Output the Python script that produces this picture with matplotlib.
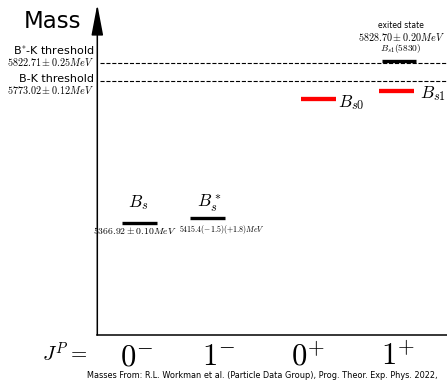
import matplotlib
matplotlib.use("Agg")
import matplotlib.pyplot as plt

plt.rcParams["mathtext.fontset"] = "cm"
plt.rcParams["font.family"] = "DejaVu Sans"

# levels as drawn (MeV)
states = ["$B_s$", "$B_s^*$", "$B_{s0}$", "$B_{s1}$", "$B_{s1}(5830)$"]
masses = [5366.92, 5381.0, 5720.0, 5743.0, 5828.7]
state_colors = ["black", "black", "red", "red", "black"]
mass_texts = ["$5366.92 \\pm 0.10 MeV$", "$5415.4(-1.5)(+1.8) MeV$", "", "",
              "$5828.70 \\pm 0.20 MeV$"]

thresholds = [5822.71, 5773.02]
threshold_names = ["B$^{*}$-K threshold", "B-K threshold"]
threshold_texts = ["$5822.71 \\pm 0.25 MeV$", "$5773.02 \\pm 0.12 MeV$"]

jp_labels = ["$0^{-}$", "$1^{-}$", "$0^{+}$", "$1^{+}$"]

W, H = 447, 382


def px(x, y):
    """pixel position -> figure fraction"""
    return x / W, 1 - y / H


fig = plt.figure(figsize=(W / 100, H / 100), dpi=100)
ax = fig.add_axes([97.3 / W, 47 / H, (W - 97.3) / W, 329 / H])
ax.set_xlim(0, W - 97.3)
ax.set_ylim(5047, 5986)

# layout: bar centres (px from the mass axis) and half width
state_x = [41.9, 110.0, 221.4, 299.0, 301.6]
half_w = 17.3
bar_lw = [2.4, 2.4, 3.1, 3.1, 2.4]

for x, m, c, lw in zip(state_x, masses, state_colors, bar_lw):
    ax.plot([x - half_w, x + half_w], [m, m], color=c, lw=lw, solid_capstyle="butt")

for t in thresholds:
    ax.axhline(t, xmin=0.008, xmax=1, color="black", ls="--", lw=0.8)

# mass arrow and bottom axis
ax.annotate("", xy=(0, 1.005), xytext=(0, 0), xycoords="axes fraction",
            arrowprops=dict(arrowstyle="-|>,head_length=1.9,head_width=0.36",
                            mutation_scale=10, lw=1.1, color="black",
                            shrinkA=0, shrinkB=0), annotation_clip=False)
for s in ["top", "right", "left"]:
    ax.spines[s].set_visible(False)
ax.spines["bottom"].set_linewidth(1.1)
ax.set_xticks([])
ax.set_yticks([])

# left hand labels
fig.text(*px(52, 21.7), "Mass", fontsize=16.5, ha="center", va="center")
name_y = [50.3, 79.0]
val_y = [61.8, 89.5]
for name, val, y, yv in zip(threshold_names, threshold_texts, name_y, val_y):
    fig.text(*px(94.3, y), name, fontsize=8, ha="right", va="center")
    fig.text(*px(94.3, yv), val, fontsize=7.3, ha="right", va="center")

# state labels
fig.text(*px(137.7, 206.7), states[0], fontsize=12.5, ha="center", va="baseline")
fig.text(*px(209.0, 207.0), states[1], fontsize=12.5, ha="center", va="baseline")
fig.text(*px(338.0, 107.0), states[2], fontsize=12.5, ha="left", va="baseline")
fig.text(*px(420.0, 98.3), states[3], fontsize=12.5, ha="left", va="baseline")
fig.text(*px(134.5, 230.5), mass_texts[0], fontsize=7.0, ha="center", va="center")
fig.text(*px(221.7, 229.4), mass_texts[1], fontsize=5.7, ha="center", va="center")

fig.text(*px(401, 26.0), "exited state", fontsize=5.5, ha="center", va="center")
fig.text(*px(401, 37.0), mass_texts[4], fontsize=7.3, ha="center", va="center")
fig.text(*px(400.8, 48.5), states[4], fontsize=6.8, ha="center", va="center")

# J^P row
fig.text(*px(41.7, 361.7), "$J^P =$", fontsize=15, ha="left", va="baseline")
for lab, x in zip(jp_labels, [136.5, 219, 308, 398]):
    fig.text(*px(x, 365), lab, fontsize=22, ha="center", va="baseline")

fig.text(*px(87.3, 376), "Masses From: R.L. Workman et al. (Particle Data Group), "
         "Prog. Theor. Exp. Phys. 2022,",
         fontsize=5.9, ha="left", va="center")

fig.savefig("out.png", dpi=100)
